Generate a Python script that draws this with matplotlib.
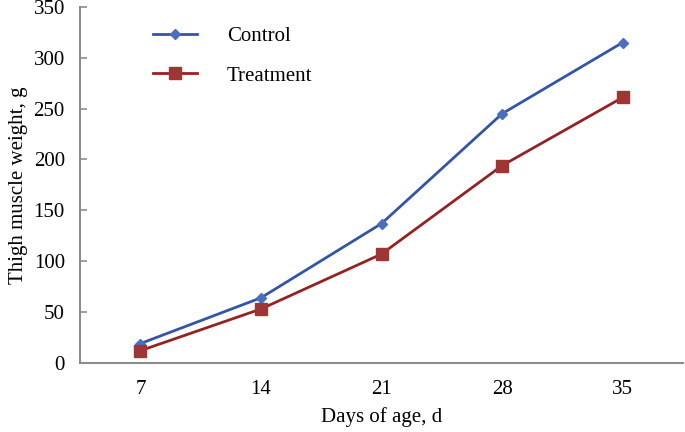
import numpy as np
import matplotlib
matplotlib.use('Agg')
import matplotlib.pyplot as plt

# data
days = ['7', '14', '21', '28', '35']
control = [19, 64, 137, 245, 315]
treatment = [12, 53, 107, 194, 261]

plt.rcParams['font.family'] = ['Liberation Serif', 'DejaVu Serif']

fig = plt.figure(figsize=(6.85, 4.32), dpi=100)
ax = fig.add_axes([0.117, 0.16, 0.88, 0.824])

x = np.arange(len(days)) + 0.5
ax.plot(x, control, color='#3355A8', lw=2, marker='D', ms=5,
        mfc='#4A6FC0', mec='#4A6FC0', label='Control')
ax.plot(x, treatment, color='#952222', lw=2, marker='s', ms=9,
        mfc='#A03535', mec='#A03535', label='Treatment')

ax.set_xlim(0, len(days))
ax.set_ylim(0, 350)
ax.set_yticks(np.arange(0, 351, 50))
ax.set_xticks(x)
ax.set_xticklabels(days)

for s in ['top', 'right']:
    ax.spines[s].set_visible(False)
for s in ['left', 'bottom']:
    ax.spines[s].set_color('#8C8C8C')
    ax.spines[s].set_linewidth(1.5)

ax.tick_params(axis='y', direction='in', length=5, color='#8C8C8C', width=1.2,
               labelsize=15, pad=11)
ax.tick_params(axis='x', length=0, labelsize=15, pad=12)

ax.set_xlabel('Days of age, d', fontsize=15, labelpad=6)
ax.set_ylabel('Thigh muscle weight, g', fontsize=15, labelpad=4)

ax.legend(loc='upper left', bbox_to_anchor=(0.09, 0.997), frameon=False,
          fontsize=15, handlelength=2.1, handletextpad=1.45, labelspacing=0.95)

fig.savefig('out.png', dpi=100)
